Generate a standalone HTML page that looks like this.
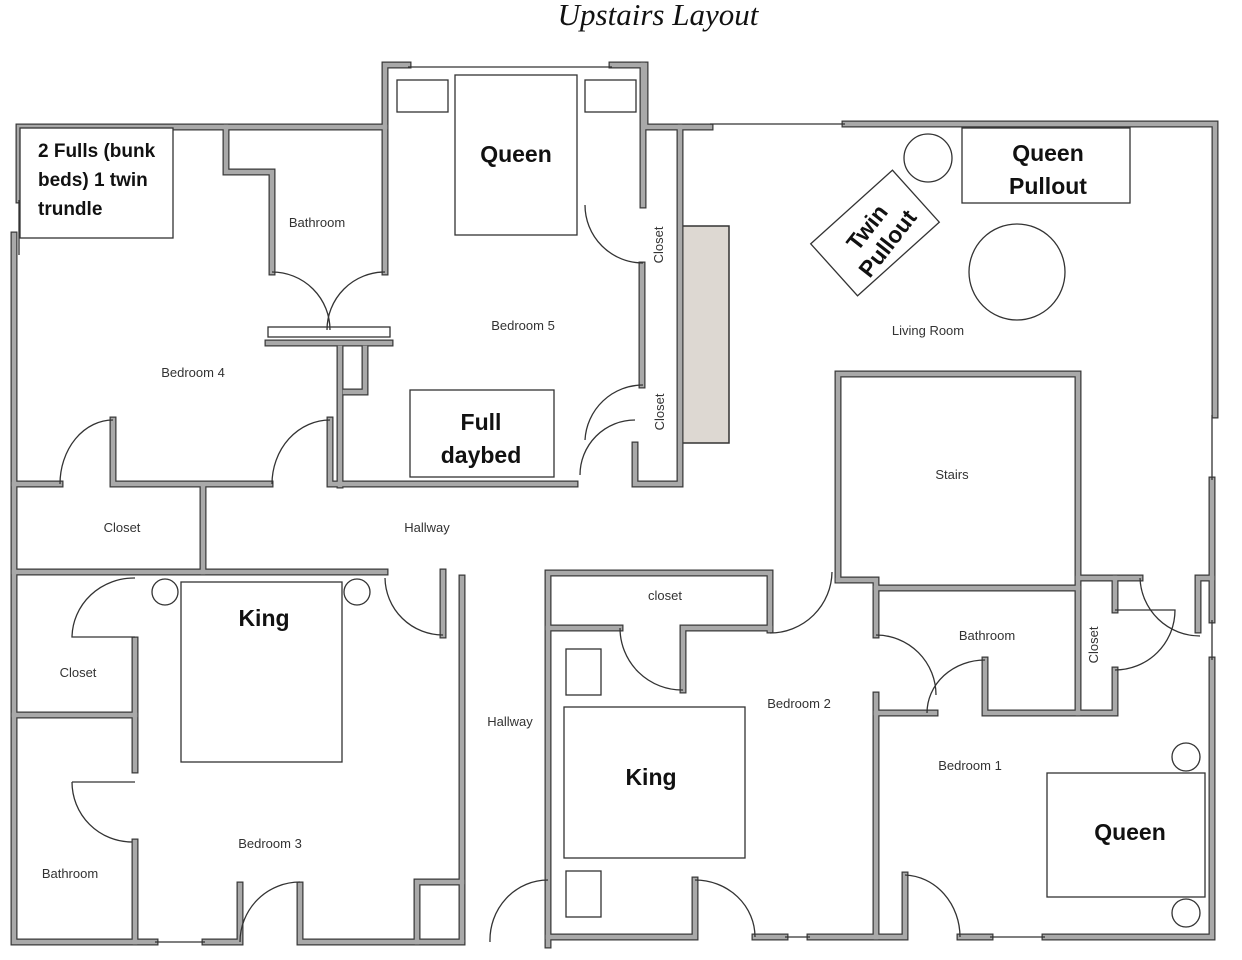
<!DOCTYPE html>
<html><head><meta charset="utf-8"><style>
html,body{margin:0;padding:0;background:#fff;}
svg{display:block;}
.lbl{font-family:"Liberation Sans",sans-serif;font-size:13px;fill:#333;}
.big{font-family:"Liberation Sans",sans-serif;font-weight:bold;font-size:23px;fill:#111;}
.mid{font-family:"Liberation Sans",sans-serif;font-weight:bold;font-size:19px;fill:#111;}
</style></head><body>
<svg width="1242" height="960" viewBox="0 0 1242 960" xmlns="http://www.w3.org/2000/svg">
<defs>
<g id="W" fill="none" stroke-linecap="square">
<path d="M19,200 V127 H385"/>
<path d="M14,235 V942 H155"/>
<path d="M226,127 V172 H272 V272"/>
<path d="M385,272 V65 H408"/>
<path d="M612,65 H645 V127 H710"/>
<path d="M845,124 H1215 V415"/>
<path d="M1212,480 V620"/>
<path d="M1212,660 V937 H1045"/>
<path d="M990,937 H960"/>
<path d="M905,875 V937 H876 V695"/>
<path d="M876,713 H935"/>
<path d="M985,660 V713 H1115 V670"/>
<path d="M838,580 V374 H1078 V713"/>
<path d="M1078,578 H1140"/>
<path d="M1115,578 V610"/>
<path d="M838,580 H876 V635"/>
<path d="M876,588 H1078"/>
<path d="M1198,630 V578 H1212"/>
<path d="M548,945 V573 H770 V630"/>
<path d="M548,628 H620"/>
<path d="M683,690 V628 H770"/>
<path d="M548,937 H695 V880"/>
<path d="M755,937 H785"/>
<path d="M810,937 H876"/>
<path d="M462,940 V578"/>
<path d="M14,572 H385"/>
<path d="M203,487 V572"/>
<path d="M205,942 H240 V885"/>
<path d="M300,885 V942 H462"/>
<path d="M417,942 V882 H462"/>
<path d="M14,715 H135"/>
<path d="M135,640 V770"/>
<path d="M135,842 V942"/>
<path d="M14,484 H60"/>
<path d="M113,420 V484 H270"/>
<path d="M330,420 V484 H575"/>
<path d="M635,445 V484 H680 V127"/>
<path d="M643,65 V205"/>
<path d="M642,265 V385"/>
<path d="M340,485 V348"/>
<path d="M268,343 H390"/>
<path d="M365,348 V392 H345"/>
<path d="M443,572 V635"/>
</g>
</defs>
<text x="658" y="25" text-anchor="middle" font-family="Liberation Serif,serif" font-style="italic" font-size="31" fill="#111">Upstairs Layout</text>
<rect x="681" y="226" width="48" height="217" fill="#ddd8d2" stroke="#333" stroke-width="1.5"/>
<use href="#W" stroke="#3a3a3a" stroke-width="7"/>
<use href="#W" stroke="#a9a9a9" stroke-width="4.5"/>
<g fill="none" stroke="#333" stroke-width="1.3">
<rect x="268" y="327" width="122" height="10" fill="#fff"/>
<path d="M408,67 H612 M710,124 H845 M19,200 V255 M1212,415 V480 M1212,620 V660 M155,942 H205 M785,937 H810 M990,937 H1045"/>
<path d="M272,272 A58,58 0 0 1 330,330"/>
<path d="M385,272 A58,58 0 0 0 327,330"/>
<path d="M113,420 A53,64 0 0 0 60,484"/>
<path d="M330,420 A58,64 0 0 0 272,484"/>
<path d="M635,420 A55,55 0 0 0 580,475"/>
<path d="M585,205 A58,58 0 0 0 643,263"/>
<path d="M643,385 A58,58 0 0 0 585,440"/>
<path d="M385,578 A58,58 0 0 0 443,635"/>
<path d="M135,578 A62,60 0 0 0 72,637 H135"/>
<path d="M72,782 H135 M72,782 A60,60 0 0 0 132,842"/>
<path d="M300,882 A60,60 0 0 0 240,942"/>
<path d="M548,880 A58,60 0 0 0 490,942"/>
<path d="M620,628 A62,62 0 0 0 683,690"/>
<path d="M770,633 A62,62 0 0 0 832,572"/>
<path d="M695,880 A60,57 0 0 1 755,937"/>
<path d="M905,875 A57,62 0 0 1 960,937"/>
<path d="M876,635 A60,60 0 0 1 936,695"/>
<path d="M985,660 A58,53 0 0 0 927,713"/>
<path d="M1115,670 A60,60 0 0 0 1175,610 H1115"/>
<path d="M1140,578 A60,60 0 0 0 1200,636"/>
</g>
<g fill="#fff" stroke="#333" stroke-width="1.3">
<rect x="20" y="128" width="153" height="110"/>
<rect x="455" y="75" width="122" height="160"/>
<rect x="397" y="80" width="51" height="32"/>
<rect x="585" y="80" width="51" height="32"/>
<rect x="410" y="390" width="144" height="87"/>
<rect x="962" y="128" width="168" height="75"/>
<circle cx="928" cy="158" r="24"/>
<circle cx="1017" cy="272" r="48"/>
<rect x="-55" y="-35" width="110" height="70" transform="translate(875,233) rotate(-42)"/>
<rect x="181" y="582" width="161" height="180"/>
<circle cx="165" cy="592" r="13"/>
<circle cx="357" cy="592" r="13"/>
<rect x="564" y="707" width="181" height="151"/>
<rect x="566" y="649" width="35" height="46"/>
<rect x="566" y="871" width="35" height="46"/>
<rect x="1047" y="773" width="158" height="124"/>
<circle cx="1186" cy="757" r="14"/>
<circle cx="1186" cy="913" r="14"/>
</g>
<text class="mid" x="38" y="157">2 Fulls (bunk</text>
<text class="mid" x="38" y="186">beds) 1 twin</text>
<text class="mid" x="38" y="215">trundle</text>
<text class="big" x="516" y="162" text-anchor="middle">Queen</text>
<text class="big" x="481" y="430" text-anchor="middle">Full</text>
<text class="big" x="481" y="463" text-anchor="middle">daybed</text>
<text class="big" x="1048" y="161" text-anchor="middle">Queen</text>
<text class="big" x="1048" y="194" text-anchor="middle">Pullout</text>
<g transform="translate(878,236) rotate(-52)"><text class="big" x="0" y="-6" text-anchor="middle">Twin</text><text class="big" x="0" y="20" text-anchor="middle">Pullout</text></g>
<text class="big" x="264" y="626" text-anchor="middle">King</text>
<text class="big" x="651" y="785" text-anchor="middle">King</text>
<text class="big" x="1130" y="840" text-anchor="middle">Queen</text>
<text class="lbl" x="317" y="227" text-anchor="middle">Bathroom</text>
<text class="lbl" x="523" y="330" text-anchor="middle">Bedroom 5</text>
<text class="lbl" x="193" y="377" text-anchor="middle">Bedroom 4</text>
<text class="lbl" x="928" y="335" text-anchor="middle">Living Room</text>
<text class="lbl" x="952" y="479" text-anchor="middle">Stairs</text>
<text class="lbl" x="122" y="532" text-anchor="middle">Closet</text>
<text class="lbl" x="427" y="532" text-anchor="middle">Hallway</text>
<text class="lbl" x="665" y="600" text-anchor="middle">closet</text>
<text class="lbl" x="987" y="640" text-anchor="middle">Bathroom</text>
<text class="lbl" x="78" y="677" text-anchor="middle">Closet</text>
<text class="lbl" x="510" y="726" text-anchor="middle">Hallway</text>
<text class="lbl" x="799" y="708" text-anchor="middle">Bedroom 2</text>
<text class="lbl" x="970" y="770" text-anchor="middle">Bedroom 1</text>
<text class="lbl" x="270" y="848" text-anchor="middle">Bedroom 3</text>
<text class="lbl" x="70" y="878" text-anchor="middle">Bathroom</text>
<text class="lbl" transform="translate(663,245) rotate(-90)" text-anchor="middle">Closet</text>
<text class="lbl" transform="translate(664,412) rotate(-90)" text-anchor="middle">Closet</text>
<text class="lbl" transform="translate(1098,645) rotate(-90)" text-anchor="middle">Closet</text>
</svg>
</body></html>
